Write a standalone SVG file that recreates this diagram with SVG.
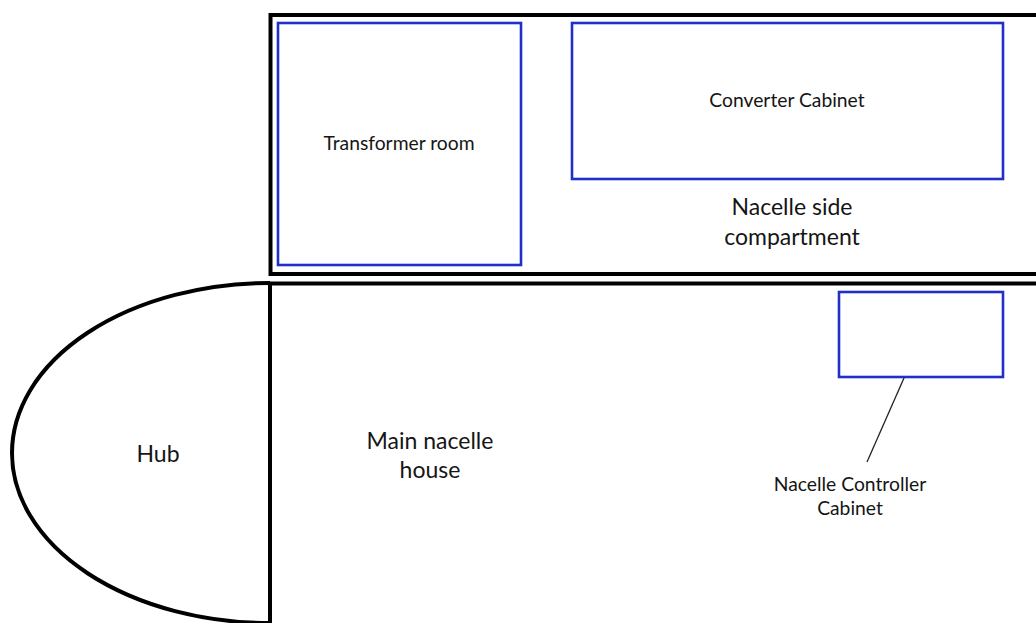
<svg xmlns="http://www.w3.org/2000/svg" width="1036" height="623" viewBox="0 0 1036 623">
  <style>
    .wall { fill: none; stroke: #000; stroke-width: 4; }
    .room { fill: #fff; stroke: #1f2fc8; stroke-width: 2.6; }
    .lbl { font-family: Lato, "Open Sans", "Liberation Sans", sans-serif; fill: #151515; text-anchor: middle; }
    .sm { font-size: 19.3px; }
    .lg { font-size: 23px; }
    .lead { stroke: #222; stroke-width: 1.3; fill: none; }
  </style>
  <rect width="1036" height="623" fill="#fff"/>

  <!-- Hub: half ellipse attached to the front of the nacelle -->
  <g id="hub">
    <path class="wall" d="M270,283 A258,170 0 0 0 12,453 A258,170 0 0 0 270,623"/>
    <text class="lbl lg" x="158" y="462">Hub</text>
  </g>

  <!-- Main nacelle house -->
  <g id="main-nacelle-house">
    <path class="wall" d="M270,623 V283.5 H1040"/>
    <text class="lbl lg" x="430" y="449">Main nacelle</text>
    <text class="lbl lg" x="430" y="478">house</text>
  </g>

  <!-- Nacelle side compartment -->
  <g id="side-compartment">
    <path class="wall" d="M1040,15 H270.5 V274 H1040"/>
    <text class="lbl lg" x="792" y="215">Nacelle side</text>
    <text class="lbl lg" x="792" y="245">compartment</text>
  </g>

  <g id="transformer-room">
    <rect class="room" x="278" y="23" width="243" height="242"/>
    <text class="lbl sm" x="399" y="150">Transformer room</text>
  </g>

  <g id="converter-cabinet">
    <rect class="room" x="572" y="23" width="431" height="156"/>
    <text class="lbl sm" x="787" y="107">Converter Cabinet</text>
  </g>

  <g id="controller-cabinet">
    <rect class="room" x="839" y="292" width="164" height="85"/>
    <text class="lbl sm" x="850" y="491">Nacelle Controller</text>
    <text class="lbl sm" x="850" y="515">Cabinet</text>
  </g>

  <g id="connectors">
    <line class="lead" x1="904" y1="378" x2="867" y2="462"/>
  </g>
</svg>
